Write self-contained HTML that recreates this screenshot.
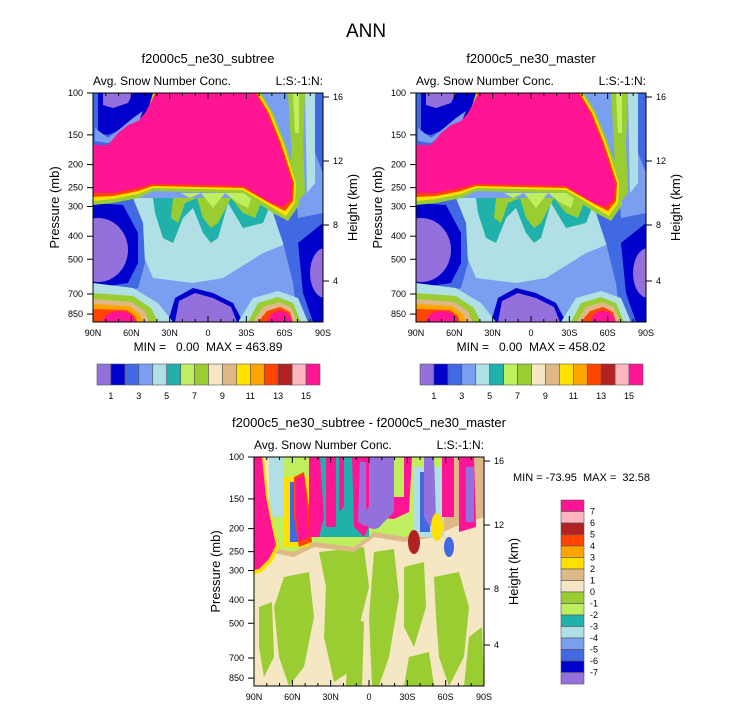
<!DOCTYPE html>
<html><head><meta charset="utf-8"><style>
body{margin:0;background:#fff}
svg{display:block;font-family:"Liberation Sans",sans-serif}
.pre{white-space:pre}
</style></head><body>
<svg id="fig" width="733" height="711" viewBox="0 0 733 711" xmlns="http://www.w3.org/2000/svg">
<defs>
<clipPath id="pc"><rect x="0" y="0" width="230" height="229"/></clipPath>
<g id="topField">
<rect x="0" y="0" width="230" height="229" fill="#7b9ff0"/>
<path d="M40 105 L200 105 L195 150 L170 160 L130 185 L100 190 L60 185 L45 150Z" fill="#b0e0e6"/>
<path d="M60 105 L180 105 L170 130 L150 135 L135 110 L125 145 L118 150 L110 140 L100 115 L90 125 L80 150 L70 145 L62 120Z" fill="#20b2aa"/>
<path d="M80 105 L170 105 L162 125 L150 120 L138 105 L125 130 L118 135 L110 125 L104 105 L92 110 L85 130 L78 125Z" fill="#9acd32"/>
<path d="M88 100 L160 100 L155 115 L145 110 L132 100 L120 115 L108 100 L97 105Z" fill="#bfef5f"/>
<path d="M0 100 L40 105 L50 130 L52 170 L45 195 L25 200 L0 205Z" fill="#4169e1"/>
<path d="M0 110 L30 112 L45 140 L45 170 L35 190 L0 195Z" fill="#0000cd"/>
<ellipse cx="5" cy="157" rx="30" ry="32" fill="#9370db"/>
<path d="M180 120 L230 110 L230 229 L205 229 L200 190 L190 150Z" fill="#4169e1"/>
<path d="M205 150 L230 130 L230 229 L220 229 L210 200Z" fill="#0000cd"/>
<ellipse cx="232" cy="180" rx="15" ry="25" fill="#9370db"/>
<path d="M75 229 L82 205 L100 195 L120 200 L140 210 L150 229Z" fill="#0000cd"/>
<path d="M82 229 L86 208 L102 200 L120 205 L138 214 L144 229Z" fill="#9370db"/>
<path d="M0 190 L40 195 L65 210 L80 229 L0 229Z" fill="#b0e0e6"/>
<path d="M0 200 L40 203 L58 215 L65 229 L0 229Z" fill="#9acd32"/>
<path d="M0 206 L38 209 L52 218 L56 229 L0 229Z" fill="#deb887"/>
<path d="M0 211 L36 213 L47 221 L50 229 L0 229Z" fill="#ffa500"/>
<path d="M0 216 L34 217 L42 223 L44 229 L0 229Z" fill="#ff4500"/>
<ellipse cx="26" cy="229" rx="16" ry="11" fill="#ff1493"/>
<path d="M145 229 L160 205 L185 198 L205 205 L215 229Z" fill="#b0e0e6"/>
<path d="M155 229 L165 210 L185 204 L200 210 L208 229Z" fill="#9acd32"/>
<path d="M160 229 L170 214 L186 209 L198 214 L204 229Z" fill="#deb887"/>
<path d="M165 229 L174 218 L187 214 L197 219 L200 229Z" fill="#ff4500"/>
<ellipse cx="187" cy="229" rx="12" ry="11" fill="#ff1493"/>
<rect x="0" y="0" width="65" height="60" fill="#4169e1"/>
<path d="M5 0 L60 0 L55 22 L40 28 L30 36 L15 42 L5 40Z" fill="#0000cd"/>
<path d="M10 0 L40 0 L35 10 L20 15 L10 12Z" fill="#9370db"/>
<path d="M2 35 L15 45 L28 35 L40 25 L50 18 L45 30 L30 42 L15 50 L2 48Z" fill="#7b9ff0"/>
<!-- top right -->
<path d="M158 0 L230 0 L230 120 L205 125 L200 60Z" fill="#7b9ff0"/>
<path d="M195 0 L212 0 L210 50 L212 100 L200 115 L198 50Z" fill="#9acd32"/>
<path d="M200 0 L206 0 L206 40 L202 40Z" fill="#bfef5f"/>
<path d="M212 0 L222 0 L222 90 L214 100Z" fill="#b0e0e6"/>
<path d="M222 0 L230 0 L230 80 L222 60Z" fill="#4169e1"/>
<!-- rainbow edges of pink -->
<path d="M0 58 L15 58 L25 46 L35 38 L45 34 L52 26 L60 0 L168 0 L180 20 L192 50 L206 90 L206 112 L195 128 L180 120 L150 100 L60 98 L45 105 L20 110 L0 112Z" fill="#9acd32"/>
<path d="M0 56 L15 56 L25 44 L35 36 L45 32 L52 24 L61 0 L166 0 L178 20 L190 50 L203 90 L202 110 L193 123 L180 115 L150 97 L60 95 L45 101 L20 106 L0 108Z" fill="#ffe000"/>
<path d="M0 54 L15 54 L25 42 L35 34 L45 30 L52 22 L62 0 L164 0 L176 20 L188 50 L201 90 L200 108 L192 118 L180 112 L150 95 L60 93 L45 98 L20 103 L0 104Z" fill="#ff4500"/>
<path d="M0 52 L15 52 L25 40 L35 32 L45 28 L52 20 L63 0 L162 0 L174 20 L186 50 L199 90 L198 106 L190 114 L178 110 L150 93 L60 91 L45 95 L20 100 L0 100Z" fill="#ff1493"/>
</g>
</defs>

<text x="366" y="37" font-size="19" text-anchor="middle">ANN</text>

<g id="p1" transform="translate(93,93)">
<g clip-path="url(#pc)"><use href="#topField"/></g>
</g>
<g id="p2" transform="translate(416,93)">
<g clip-path="url(#pc)"><use href="#topField"/></g>
</g>
<g id="p3" transform="translate(254,457)">
<g clip-path="url(#pc)">
<rect x="0" y="0" width="230" height="229" fill="#f5e6c4"/>
<path d="M30 120 L55 115 L60 160 L50 210 L35 229 L25 200 L20 150Z" fill="#9acd32"/>
<path d="M65 95 L110 90 L115 130 L105 170 L95 215 L80 225 L70 180 L72 130Z" fill="#9acd32"/>
<path d="M120 95 L140 92 L145 140 L135 200 L125 229 L118 229 L115 160Z" fill="#9acd32"/>
<path d="M150 110 L170 105 L172 150 L160 190 L150 170Z" fill="#9acd32"/>
<path d="M180 120 L205 115 L215 150 L210 200 L195 229 L185 200 L182 160Z" fill="#9acd32"/>
<path d="M215 180 L228 170 L230 229 L210 229Z" fill="#9acd32"/>
<path d="M5 150 L18 145 L20 200 L10 220 L5 190Z" fill="#9acd32"/>
<path d="M95 160 L110 165 L108 229 L92 229Z" fill="#9acd32"/>
<path d="M155 200 L175 195 L180 229 L150 229Z" fill="#9acd32"/>
<path d="M15 0 L230 0 L230 60 L200 70 L180 80 L150 85 L120 80 L100 95 L60 90 L40 100 L15 95Z" fill="#deb887"/>
<path d="M15 0 L200 0 L195 55 L170 75 L150 80 L120 75 L100 90 L60 85 L40 95 L15 90Z" fill="#bfef5f"/>
<rect x="15" y="0" width="15" height="60" fill="#b0e0e6"/>
<rect x="30" y="20" width="25" height="70" fill="#ffe000"/>
<rect x="36" y="25" width="12" height="60" fill="#4169e1"/>
<rect x="55" y="0" width="60" height="80" fill="#20b2aa"/>
<rect x="160" y="10" width="30" height="70" fill="#b0e0e6"/>
<rect x="166" y="15" width="10" height="60" fill="#4169e1"/>
<path d="M0 0 L10 0 L14 40 L20 70 L25 90 L18 105 L8 115 L0 118Z" fill="#ffe000"/>
<path d="M0 0 L8 0 L12 40 L18 70 L22 88 L15 102 L5 112 L0 113Z" fill="#ff1493"/>
<path d="M40 20 L50 15 L55 50 L58 85 L45 90 L40 60Z" fill="#ff4500"/>
<path d="M42 22 L50 18 L53 50 L55 80 L45 85 L42 60Z" fill="#ff1493"/>
<path d="M55 0 L66 0 L70 60 L65 80 L55 80Z" fill="#ff1493"/>
<rect x="72" y="0" width="10" height="70" fill="#ff1493"/>
<path d="M85 0 L90 0 L90 50 L85 55Z" fill="#ff1493"/>
<path d="M98 0 L158 0 L155 55 L140 62 L120 60 L110 80 L100 70Z" fill="#ff1493"/>
<path d="M115 0 L140 0 L140 55 L125 70 L115 60Z" fill="#9370db"/>
<path d="M106 5 L112 5 L112 70 L104 65Z" fill="#9370db"/>
<rect x="140" y="0" width="10" height="40" fill="#bfef5f"/>
<path d="M170 0 L180 0 L182 60 L176 70 L170 60Z" fill="#9370db"/>
<rect x="188" y="0" width="12" height="60" fill="#ff1493"/>
<path d="M205 0 L220 0 L222 70 L205 75Z" fill="#ff1493"/>
<rect x="212" y="10" width="8" height="55" fill="#9370db"/>
<ellipse cx="183" cy="70" rx="6" ry="14" fill="#ffe000"/>
<ellipse cx="160" cy="85" rx="6" ry="12" fill="#b22222"/>
<ellipse cx="195" cy="90" rx="5" ry="10" fill="#4169e1"/>
<ellipse cx="120" cy="60" rx="10" ry="12" fill="#9370db"/>
</g>
</g>

<g id="chrome"></g>

<script>
const xLabels = ["90N","60N","30N","0","30S","60S","90S"];
const pLabels = [100,150,200,250,300,400,500,700,850];
const hLabels = [16,12,8,4];
const hPos = [4,68,132,188];
const cbLabelsTop = ["1","3","5","7","9","11","13","15"];
const cbLabelsDiff = ["7","6","5","4","3","2","1","0","-1","-2","-3","-4","-5","-6","-7"];
const cbColors = ["#9370db","#0000cd","#4169e1","#7b9ff0","#b0e0e6","#20b2aa","#bfef5f","#9acd32","#f5e6c4","#deb887","#ffe000","#ffa500","#ff4500","#b22222","#ffb6c1","#ff1493"];
const NS="http://www.w3.org/2000/svg";
const root=document.getElementById('chrome');
function el(t,a,txt){const e=document.createElementNS(NS,t);for(const k in a)e.setAttribute(k,a[k]);if(txt!==undefined)e.textContent=txt;root.appendChild(e);return e;}
const W=230,H=229;
const yP=p=>103.3*Math.log(p/100);
const xL=i=>i*W/(xLabels.length-1);
function panel(ox,oy,title,minmax){
  let r=el('rect',{x:ox,y:oy,width:W,height:H,fill:'none',stroke:'#000','stroke-width':1});
  
  
  for(let d=0;d<=18;d++){const x=ox+d*W/18;const L=d%3==0?6:3;
    let t=el('line',{x1:x,y1:oy+H,x2:x,y2:oy+H-L,stroke:'#000'});
    
    
    let t2=el('line',{x1:x,y1:oy,x2:x,y2:oy+L,stroke:'#000'});
    
    }
  xLabels.forEach((s,i)=>{let t=el('text',{x:ox+xL(i),y:oy+H+14,'font-size':9,'text-anchor':'middle'},s);
    
    });
  pLabels.forEach(p=>{const y=oy+yP(p);
    let l=el('line',{x1:ox,y1:y,x2:ox-6,y2:y,stroke:'#000'});
    
    
    let t=el('text',{x:ox-10,y:y+3,'font-size':9,'text-anchor':'end'},String(p));
    
    });
  hLabels.forEach((h,i)=>{const y=oy+hPos[i];
    let l=el('line',{x1:ox+W,y1:y,x2:ox+W+6,y2:y,stroke:'#000'});
    
    
    let t=el('text',{x:ox+W+10,y:y+3,'font-size':9},String(h));
    
    });
  let a=el('text',{x:ox,y:oy-8,'font-size':12},'Avg. Snow Number Conc.');
  
  
  let b=el('text',{x:ox+W,y:oy-8,'font-size':12,'text-anchor':'end'},'L:S:-1:N:');
  
  
  let c=el('text',{x:ox+W/2,y:oy-30,'font-size':13,'text-anchor':'middle'},title);
  
  
  let yl=el('text',{x:0,y:0,'font-size':13,'text-anchor':'middle',transform:`translate(${ox-34},${oy+H/2}) rotate(-90)`},'Pressure (mb)');
  
  
  let hl=el('text',{x:0,y:0,'font-size':13,'text-anchor':'middle',transform:`translate(${ox+W+34},${oy+H/2}) rotate(-90)`},'Height (km)');
  
  
  if(minmax){let m=el('text',{x:ox+W/2,y:oy+H+29,'font-size':12,'text-anchor':'middle','class':'pre'},minmax);
    
    }
}
function hbar(x0,y0,w,h){
  const bw=w/cbColors.length;
  cbColors.forEach((c,i)=>{let r=el('rect',{x:x0+i*bw,y:y0,width:bw,height:h,fill:c,stroke:'#555','stroke-width':0.6});
    
    });
  cbLabelsTop.forEach((s,i)=>{let t=el('text',{x:x0+(2*i+1)*bw,y:y0+h+14,'font-size':9,'text-anchor':'middle'},s);
    
    });
}
panel(93,93,'f2000c5_ne30_subtree','MIN =   0.00  MAX = 463.89');
panel(416,93,'f2000c5_ne30_master','MIN =   0.00  MAX = 458.02');
panel(254,457,'f2000c5_ne30_subtree - f2000c5_ne30_master',null);
hbar(97,364,223,21);
hbar(420,364,223,21);
const vx=561,vy=500,vw=23,vh=184,bh=vh/cbColors.length;
cbColors.slice().reverse().forEach((c,i)=>{let r=el('rect',{x:vx,y:vy+i*bh,width:vw,height:bh,fill:c,stroke:'#555','stroke-width':0.6});
  
  });
cbLabelsDiff.forEach((s,i)=>{let t=el('text',{x:vx+vw+6,y:vy+(i+1)*bh+3,'font-size':9},s);
  
  });
let mm=el('text',{x:513,y:481,'font-size':11,'class':'pre'},'MIN = -73.95  MAX =  32.58');


</script>
</svg>
</body></html>
